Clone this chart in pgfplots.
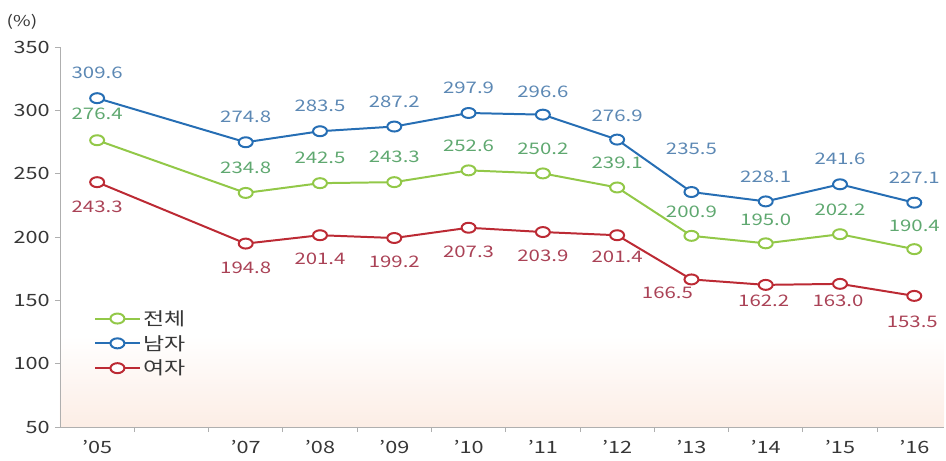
\documentclass[border=0pt]{standalone}
\usepackage{fontspec}
\setmainfont{Noto Sans CJK KR}[FakeStretch=1.28]
\usepackage{pgfplots}
\pgfplotsset{compat=1.18}

\definecolor{cgreen}{RGB}{146,200,72}
\definecolor{cblue}{RGB}{38,110,180}
\definecolor{cred}{RGB}{188,42,52}
\definecolor{lgreen}{RGB}{95,168,112}
\definecolor{lblue}{RGB}{92,136,180}
\definecolor{lred}{RGB}{170,66,86}
\definecolor{axgray}{RGB}{175,175,175}
\definecolor{txt}{RGB}{55,55,55}
\definecolor{bgpink}{RGB}{252,237,229}

% year, value, label offset (bp)
\pgfplotstableread{
x y dx dy
5 276.4 0 26
7 234.8 0 25
8 242.5 0 25
9 243.3 0 25
10 252.6 0 25
11 250.2 0 25
12 239.1 0 25
13 200.9 0 24
14 195.0 0 24
15 202.2 0 24
16 190.4 0 23
}\total
\pgfplotstableread{
x y dx dy
5 309.6 0 25
7 274.8 0 25
8 283.5 0 25
9 287.2 0 25
10 297.9 0 25
11 296.6 0 23
12 276.9 0 24
13 235.5 0 43
14 228.1 0 25
15 241.6 0 25
16 227.1 0 25
}\male
\pgfplotstableread{
x y dx dy
5 243.3 0 -25
7 194.8 0 -24
8 201.4 0 -24
9 199.2 0 -24
10 207.3 0 -24
11 203.9 0 -24
12 201.4 0 -22
13 166.5 -24 -13
14 162.2 -2 -16
15 163.0 -2 -17
16 153.5 -2 -26
}\female

\begin{document}
\begin{tikzpicture}
\useasboundingbox (-60bp,-34bp) rectangle (886bp,427bp);
\begin{axis}[
    at={(0,0)}, anchor=south west,
    scale only axis, width=884bp, height=380bp,
    xmin=4.5, xmax=16.4, ymin=50, ymax=350,
    axis on top,
    axis x line*=bottom, axis y line*=left,
    axis line style={draw=axgray, line width=0.9pt},
    xtick={5,7,8,9,10,11,12,13,14,15,16},
    xticklabels={'05,'07,'08,'09,'10,'11,'12,'13,'14,'15,'16},
    minor xtick={5.5,6.5,...,15.5},
    ytick={50,100,...,350},
    tick align=outside,
    major tick length=5bp, minor tick length=5bp,
    major x tick style={draw=none},
    tick style={draw=axgray, line width=0.9pt},
    minor tick style={draw=axgray, line width=0.9pt},
    tick label style={font=\fontsize{17}{19}\selectfont, text=txt},
    xticklabel style={yshift=-4bp},
    yticklabel style={xshift=-1bp},
    /pgf/number format/assume math mode=true,
    clip=false,
    line width=2pt,
    mark size=5pt,
    nodes near coords,
    visualization depends on={\thisrow{dx} \as \dx},
    visualization depends on={\thisrow{dy} \as \dy},
    nodes near coords style={anchor=center, xshift=\dx bp, yshift=\dy bp,
        font=\fontsize{16}{18}\selectfont,
        /pgf/number format/fixed, /pgf/number format/fixed zerofill,
        /pgf/number format/precision=1},
    legend style={draw=none, fill=none, at={(0.034,0.32)}, anchor=north west,
        font=\fontsize{18}{20}\selectfont, text=txt, row sep=4.5bp,
        /tikz/every even column/.style={column sep=4bp}},
    legend cell align=left,
    legend image code/.code={
        \draw[line width=2pt] (0bp,0bp) -- (45bp,0bp);
        \draw[line width=2pt, fill=white, xscale=1.4] (16bp,0bp) circle (5bp);
    },
]
\path[bottom color=bgpink, top color=white] (axis cs:4.5,50) rectangle (axis cs:16.4,122);

\addplot[cgreen, mark=*, mark options={fill=white, xscale=1.4},
    nodes near coords style={text=lgreen}] table[x=x, y=y] {\total};
\addlegendentry{전체}
\addplot[cblue, mark=*, mark options={fill=white, xscale=1.4},
    nodes near coords style={text=lblue}] table[x=x, y=y] {\male};
\addlegendentry{남자}
\addplot[cred, mark=*, mark options={fill=white, xscale=1.4},
    nodes near coords style={text=lred}] table[x=x, y=y] {\female};
\addlegendentry{여자}

\node[text=txt, font=\fontsize{15}{17}\selectfont] at ([xshift=-38bp, yshift=25bp]rel axis cs:0,1) {(\%)};
\end{axis}
\end{tikzpicture}
\end{document}
